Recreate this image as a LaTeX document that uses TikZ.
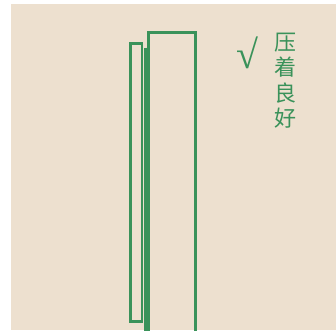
\documentclass[tikz,border=0pt]{standalone}
\usepackage{fontspec}
\newfontfamily\cjk{Noto Sans CJK SC}
\newfontfamily\chk{Liberation Serif}
\definecolor{bg}{RGB}{237,224,207}
\definecolor{gr}{RGB}{58,146,90}
\begin{document}
\begin{tikzpicture}[x=1pt,y=-1pt,
  edge/.style={draw=gr,line width=2.7pt},
  lbl/.style={text=gr,font=\cjk\fontsize{22}{25.5}\selectfont,inner sep=0pt,align=center}]
\useasboundingbox (0,0) rectangle (336,330);
\fill[white] (0,0) rectangle (336,330);
\fill[bg] (11,4) rectangle (336,330);
\node[edge,rectangle,minimum width=11.6pt,minimum height=278pt,inner sep=0pt] (thin) at (136.2,182.3) {};
\coordinate (ltop) at (145.5,47.5);
\coordinate (lbot) at (145.5,331);
\draw[edge,line width=2.1pt] (ltop) -- (lbot);
\draw[edge,line width=2.4pt] (148.5,333) -- (148.5,32.5) -- (195.5,32.5) -- (195.5,333);
\node[text=gr,font=\chk\fontsize{40}{40}\selectfont,inner sep=0pt] (check) at (247,53) {√};
\node[lbl] (txt) at (285,80.5) {压\\着\\良\\好};
\end{tikzpicture}
\end{document}
